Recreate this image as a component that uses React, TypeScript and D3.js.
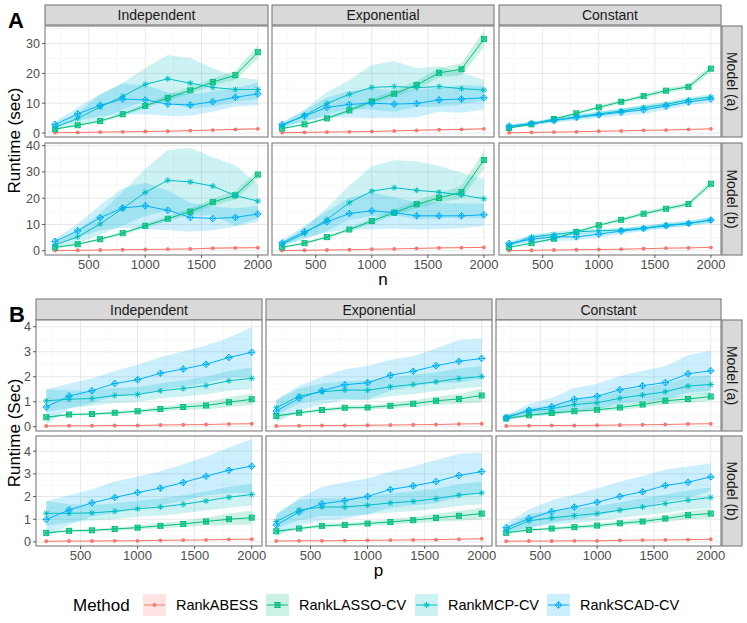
import * as d3 from 'd3';

// x values (n for panel A, p for panel B)
const X_VALUES = [200, 400, 600, 800, 1000, 1200, 1400, 1600, 1800, 2000];
const X_TICKS = [500, 1000, 1500, 2000];
const X_MINOR = [250, 750, 1250, 1750];
const METHODS = ['RankABESS', 'RankLASSO-CV', 'RankMCP-CV', 'RankSCAD-CV'];
const COLORS = ['#F8766D', '#00BF7D', '#00BFC4', '#00B0F6'];
const COVARIANCES = ['Independent', 'Exponential', 'Constant'];
const MODELS = ['Model (a)', 'Model (b)'];

// ---- Panel A: runtime vs n (mean, sd per method: ABESS, LASSO, MCP, SCAD)
const A_a_ind = {
  mean: [
    [0.1, 0.2, 0.3, 0.4, 0.5, 0.6, 0.8, 1.0, 1.2, 1.4],
    [1.3, 2.6, 4.0, 6.3, 9.1, 11.8, 14.3, 17.1, 19.4, 27.1],
    [1.9, 4.9, 8.7, 12.3, 16.3, 18.2, 16.7, 15.3, 14.6, 14.6],
    [2.9, 6.4, 9.3, 11.4, 11.1, 9.7, 9.4, 10.5, 12.0, 13.1],
  ],
  sd: [
    [0.05, 0.05, 0.08, 0.1, 0.1, 0.12, 0.15, 0.2, 0.3, 0.4],
    [0.3, 0.4, 0.5, 0.6, 0.8, 1.0, 1.1, 1.2, 1.5, 2.3],
    [0.7, 2.0, 4.2, 4.5, 5.5, 8.0, 8.5, 6.5, 4.2, 3.3],
    [0.9, 2.2, 3.8, 5.2, 4.8, 4.0, 3.6, 3.4, 3.1, 3.8],
  ],
};
const A_a_exp = {
  mean: [
    [0.1, 0.2, 0.3, 0.4, 0.5, 0.7, 0.9, 1.1, 1.2, 1.4],
    [1.5, 2.9, 4.9, 7.6, 10.6, 13.2, 16.1, 20.2, 21.4, 31.5],
    [2.5, 5.9, 9.9, 13.0, 15.3, 15.6, 15.2, 15.6, 14.9, 14.4],
    [2.8, 5.7, 8.6, 9.6, 10.0, 9.7, 9.9, 11.1, 11.4, 11.8],
  ],
  sd: [
    [0.05, 0.05, 0.08, 0.1, 0.1, 0.12, 0.15, 0.25, 0.3, 0.3],
    [0.3, 0.4, 0.5, 0.7, 0.9, 1.1, 1.4, 1.6, 2.0, 2.8],
    [0.8, 2.0, 3.8, 4.8, 7.5, 8.5, 6.5, 6.8, 5.3, 3.5],
    [0.8, 1.8, 3.3, 4.4, 5.0, 4.6, 4.6, 4.0, 4.6, 4.0],
  ],
};
const A_a_con = {
  mean: [
    [0.1, 0.2, 0.3, 0.4, 0.6, 0.7, 0.9, 1.0, 1.2, 1.4],
    [1.7, 2.9, 4.7, 6.6, 8.6, 10.5, 12.4, 14.2, 15.5, 21.6],
    [2.1, 3.1, 4.3, 5.4, 6.4, 7.4, 8.5, 9.6, 11.1, 12.1],
    [2.3, 3.2, 4.2, 5.2, 6.1, 7.0, 7.8, 9.0, 10.4, 11.4],
  ],
  sd: [
    [0.05, 0.05, 0.06, 0.08, 0.1, 0.1, 0.12, 0.12, 0.15, 0.15],
    [0.2, 0.3, 0.4, 0.5, 0.6, 0.6, 0.7, 0.8, 0.9, 1.3],
    [0.5, 0.6, 0.6, 0.7, 0.8, 0.8, 0.9, 0.9, 0.9, 1.0],
    [0.6, 0.7, 0.8, 0.9, 1.0, 1.2, 1.4, 1.2, 1.1, 1.2],
  ],
};
const A_b_ind = {
  mean: [
    [0.1, 0.2, 0.3, 0.4, 0.5, 0.6, 0.7, 1.0, 1.1, 1.2],
    [1.3, 2.5, 4.4, 6.7, 9.5, 12.2, 14.9, 18.5, 21.1, 29.0],
    [2.2, 5.3, 10.2, 16.1, 22.2, 26.8, 26.2, 24.6, 21.0, 18.9],
    [3.6, 7.6, 12.6, 16.3, 17.1, 15.4, 12.7, 12.3, 12.7, 14.0],
  ],
  sd: [
    [0.05, 0.05, 0.08, 0.1, 0.1, 0.12, 0.15, 0.35, 0.35, 0.35],
    [0.3, 0.4, 0.5, 0.6, 0.8, 1.0, 1.2, 1.4, 1.6, 1.8],
    [0.8, 2.4, 4.2, 6.5, 9.0, 11.5, 13.0, 11.0, 11.5, 6.5],
    [1.0, 2.6, 4.8, 7.5, 8.8, 7.5, 5.5, 4.5, 3.5, 3.0],
  ],
};
const A_b_exp = {
  mean: [
    [0.1, 0.2, 0.3, 0.4, 0.6, 0.7, 0.9, 1.1, 1.2, 1.3],
    [1.3, 2.9, 5.2, 8.1, 11.3, 14.5, 17.7, 20.1, 22.3, 34.5],
    [2.5, 6.6, 11.9, 18.3, 22.7, 24.0, 23.0, 22.3, 21.2, 19.8],
    [3.0, 7.2, 11.0, 14.2, 15.2, 14.5, 13.3, 13.3, 13.3, 13.7],
  ],
  sd: [
    [0.05, 0.05, 0.08, 0.1, 0.1, 0.12, 0.15, 0.2, 0.25, 0.25],
    [0.3, 0.4, 0.6, 0.8, 1.0, 1.2, 1.5, 1.8, 2.4, 3.5],
    [0.8, 2.2, 4.5, 6.5, 9.5, 10.5, 11.0, 10.0, 8.5, 7.5],
    [1.0, 2.3, 4.0, 6.0, 7.0, 6.0, 5.2, 5.0, 4.7, 4.3],
  ],
};
const A_b_con = {
  mean: [
    [0.1, 0.2, 0.3, 0.4, 0.5, 0.6, 0.8, 1.0, 1.1, 1.3],
    [1.3, 2.9, 4.6, 7.2, 9.7, 11.8, 14.1, 16.0, 17.8, 25.5],
    [2.2, 5.2, 6.2, 7.2, 7.6, 7.9, 8.6, 9.8, 10.4, 11.7],
    [2.8, 4.4, 5.3, 5.3, 6.3, 7.5, 8.5, 9.5, 10.4, 11.7],
  ],
  sd: [
    [0.05, 0.05, 0.06, 0.08, 0.1, 0.1, 0.12, 0.12, 0.15, 0.15],
    [0.2, 0.3, 0.4, 0.5, 0.6, 0.7, 0.8, 0.8, 0.9, 1.2],
    [0.6, 1.2, 1.0, 0.9, 0.9, 0.8, 0.8, 0.9, 0.9, 1.0],
    [0.8, 1.4, 1.6, 1.3, 1.2, 1.1, 1.1, 1.0, 1.0, 1.1],
  ],
};

// ---- Panel B: runtime vs p
const B_a_ind = {
  mean: [
    [0.03, 0.04, 0.04, 0.05, 0.05, 0.07, 0.08, 0.09, 0.11, 0.12],
    [0.38, 0.49, 0.51, 0.56, 0.62, 0.71, 0.79, 0.85, 0.98, 1.1],
    [1.04, 1.1, 1.13, 1.25, 1.29, 1.44, 1.53, 1.65, 1.84, 1.94],
    [0.79, 1.23, 1.44, 1.73, 1.88, 2.14, 2.31, 2.5, 2.77, 2.98],
  ],
  sd: [
    [0.01, 0.01, 0.01, 0.01, 0.01, 0.01, 0.01, 0.01, 0.01, 0.01],
    [0.04, 0.05, 0.05, 0.06, 0.07, 0.09, 0.12, 0.15, 0.2, 0.23],
    [0.45, 0.35, 0.3, 0.3, 0.3, 0.3, 0.32, 0.35, 0.4, 0.42],
    [0.7, 0.5, 0.5, 0.5, 0.6, 0.65, 0.7, 0.75, 0.8, 1.0],
  ],
};
const B_a_exp = {
  mean: [
    [0.03, 0.04, 0.05, 0.05, 0.06, 0.07, 0.08, 0.09, 0.11, 0.12],
    [0.43, 0.56, 0.67, 0.76, 0.77, 0.84, 0.92, 1.04, 1.11, 1.25],
    [0.76, 1.23, 1.4, 1.47, 1.46, 1.6, 1.69, 1.8, 1.93, 2.01],
    [0.63, 1.14, 1.44, 1.68, 1.76, 2.06, 2.22, 2.44, 2.62, 2.73],
  ],
  sd: [
    [0.01, 0.01, 0.01, 0.01, 0.01, 0.01, 0.01, 0.01, 0.01, 0.01],
    [0.05, 0.06, 0.07, 0.08, 0.09, 0.1, 0.13, 0.17, 0.2, 0.27],
    [0.3, 0.3, 0.33, 0.35, 0.4, 0.38, 0.38, 0.38, 0.4, 0.42],
    [0.45, 0.5, 0.55, 0.62, 0.67, 0.62, 0.6, 0.7, 0.85, 0.8],
  ],
};
const B_a_con = {
  mean: [
    [0.03, 0.04, 0.05, 0.05, 0.06, 0.07, 0.08, 0.09, 0.11, 0.12],
    [0.33, 0.46, 0.55, 0.62, 0.68, 0.77, 0.89, 1.04, 1.11, 1.21],
    [0.4, 0.63, 0.72, 0.89, 0.96, 1.14, 1.27, 1.4, 1.63, 1.69],
    [0.35, 0.66, 0.81, 1.1, 1.22, 1.48, 1.64, 1.77, 2.12, 2.24],
  ],
  sd: [
    [0.01, 0.01, 0.01, 0.01, 0.01, 0.01, 0.01, 0.01, 0.01, 0.01],
    [0.04, 0.05, 0.06, 0.07, 0.08, 0.1, 0.12, 0.14, 0.16, 0.18],
    [0.08, 0.12, 0.15, 0.2, 0.25, 0.28, 0.3, 0.32, 0.35, 0.38],
    [0.1, 0.25, 0.35, 0.45, 0.5, 0.55, 0.6, 0.65, 0.75, 0.8],
  ],
};
const B_b_ind = {
  mean: [
    [0.03, 0.04, 0.04, 0.05, 0.05, 0.07, 0.08, 0.09, 0.11, 0.12],
    [0.4, 0.49, 0.51, 0.57, 0.63, 0.71, 0.79, 0.9, 1.0, 1.07],
    [1.26, 1.26, 1.28, 1.35, 1.46, 1.54, 1.66, 1.81, 1.97, 2.09],
    [0.99, 1.41, 1.72, 1.96, 2.18, 2.37, 2.62, 2.9, 3.16, 3.34],
  ],
  sd: [
    [0.01, 0.01, 0.01, 0.01, 0.01, 0.01, 0.01, 0.01, 0.01, 0.01],
    [0.04, 0.05, 0.06, 0.07, 0.08, 0.1, 0.14, 0.18, 0.25, 0.3],
    [0.55, 0.4, 0.35, 0.35, 0.35, 0.38, 0.4, 0.42, 0.45, 0.48],
    [0.8, 0.65, 0.6, 0.7, 0.7, 0.75, 0.8, 0.85, 1.0, 1.2],
  ],
};
const B_b_exp = {
  mean: [
    [0.04, 0.05, 0.05, 0.06, 0.07, 0.08, 0.09, 0.1, 0.12, 0.14],
    [0.47, 0.59, 0.71, 0.75, 0.81, 0.88, 0.96, 1.06, 1.15, 1.25],
    [0.9, 1.41, 1.54, 1.54, 1.62, 1.72, 1.79, 1.91, 2.06, 2.16],
    [0.74, 1.32, 1.68, 1.82, 2.01, 2.31, 2.47, 2.66, 2.93, 3.1],
  ],
  sd: [
    [0.01, 0.01, 0.01, 0.01, 0.01, 0.01, 0.01, 0.01, 0.01, 0.01],
    [0.05, 0.06, 0.08, 0.09, 0.1, 0.12, 0.14, 0.18, 0.22, 0.26],
    [0.3, 0.45, 0.4, 0.4, 0.4, 0.42, 0.44, 0.45, 0.48, 0.5],
    [0.5, 0.6, 0.75, 0.8, 0.8, 0.8, 0.85, 0.95, 0.95, 0.85],
  ],
};
const B_b_con = {
  mean: [
    [0.03, 0.04, 0.04, 0.05, 0.05, 0.07, 0.08, 0.09, 0.1, 0.12],
    [0.4, 0.53, 0.59, 0.65, 0.72, 0.82, 0.9, 1.03, 1.18, 1.25],
    [0.51, 0.93, 1.06, 1.16, 1.25, 1.4, 1.54, 1.69, 1.84, 1.96],
    [0.63, 1.03, 1.34, 1.54, 1.75, 2.01, 2.21, 2.49, 2.63, 2.87],
  ],
  sd: [
    [0.01, 0.01, 0.01, 0.01, 0.01, 0.01, 0.01, 0.01, 0.01, 0.01],
    [0.05, 0.06, 0.07, 0.08, 0.09, 0.1, 0.12, 0.14, 0.18, 0.22],
    [0.15, 0.3, 0.3, 0.32, 0.33, 0.35, 0.38, 0.4, 0.42, 0.45],
    [0.2, 0.4, 0.5, 0.55, 0.6, 0.65, 0.7, 0.7, 0.7, 0.6],
  ],
};

const A_Y_TICKS = [[0, 10, 20, 30], [0, 10, 20, 30, 40]];
const A_Y_MINOR = [[5, 15, 25, 35], [5, 15, 25, 35]];
const B_Y_TICKS = [[0, 1, 2, 3, 4], [0, 1, 2, 3, 4]];
const B_Y_MINOR = [[0.5, 1.5, 2.5, 3.5], [0.5, 1.5, 2.5, 3.5, 4.5]];

const FONT = 'Liberation Sans, Arial, Helvetica, sans-serif';
const BORDER = '#7a7a7a';

const SECTIONS = [
  {
    label: 'A', xTitle: 'n', yTitle: 'Runtime (sec)',
    cols: [[45, 268], [272, 494], [499, 721]],
    strip: [5, 25], rows: [[26, 137], [143, 255]],
    domains: [[-1.34, 35.9], [-1.6, 41.0]],
    yTicks: A_Y_TICKS, yMinor: A_Y_MINOR,
    data: [[A_a_ind, A_a_exp, A_a_con], [A_b_ind, A_b_exp, A_b_con]],
    tickBase: 269, titleBase: 285, labelXY: [8, 28],
  },
  {
    label: 'B', xTitle: 'p', yTitle: 'Runtime (Sec)',
    cols: [[36, 262], [266, 492], [496, 721]],
    strip: [299, 320], rows: [[320, 431], [436, 546]],
    domains: [[-0.17, 4.27], [-0.18, 4.67]],
    yTicks: B_Y_TICKS, yMinor: B_Y_MINOR,
    data: [[B_a_ind, B_a_exp, B_a_con], [B_b_ind, B_b_exp, B_b_con]],
    tickBase: 560, titleBase: 576, labelXY: [9, 322],
  },
];

function Marker({ k, x, y, color }: { k: number; x: number; y: number; color: string }) {
  if (k === 0) return <circle cx={x} cy={y} r={1.9} fill={color} />;
  if (k === 1) {
    const s = 2.5;
    return (
      <g stroke={color} strokeWidth={1} fill={color} fillOpacity={0.5}>
        <rect x={x - s} y={y - s} width={2 * s} height={2 * s} />
        <path d={`M${x - s},${y - s}L${x + s},${y + s}M${x - s},${y + s}L${x + s},${y - s}`} />
      </g>
    );
  }
  if (k === 2) {
    const r = 3, d = 2.2;
    return (
      <path stroke={color} strokeWidth={1}
        d={`M${x - r},${y}L${x + r},${y}M${x},${y - r}L${x},${y + r}M${x - d},${y - d}L${x + d},${y + d}M${x - d},${y + d}L${x + d},${y - d}`} />
    );
  }
  const r = 3.3;
  return (
    <g stroke={color} strokeWidth={1} fill="none">
      <path d={`M${x},${y - r}L${x + r},${y}L${x},${y + r}L${x - r},${y}Z`} />
      <path d={`M${x - r},${y}L${x + r},${y}M${x},${y - r}L${x},${y + r}`} />
    </g>
  );
}

function Panel({ id, x0, x1, y0, y1, domain, yTicks, yMinor, series, showY, showX, tickBase }: any) {
  const x = d3.scaleLinear().domain([110, 2090]).range([x0, x1]);
  const y = d3.scaleLinear().domain(domain).range([y1, y0]);
  const line = d3.line<number>().x((_, i) => x(X_VALUES[i])).y((d) => y(d));
  const area = (m: number[], s: number[]) =>
    d3.area<number>()
      .x((_, i) => x(X_VALUES[i]))
      .y0((d, i) => y(d - s[i]))
      .y1((d, i) => y(d + s[i]))(m) as string;
  return (
    <g>
      <defs>
        <clipPath id={id}><rect x={x0} y={y0} width={x1 - x0} height={y1 - y0} /></clipPath>
      </defs>
      <rect x={x0} y={y0} width={x1 - x0} height={y1 - y0} fill="#fff" />
      {yMinor.map((v: number) => y(v) > y0 && (
        <line key={'ym' + v} x1={x0} x2={x1} y1={y(v)} y2={y(v)} stroke="#f2f2f2" strokeWidth={0.6} />
      ))}
      {X_MINOR.map((v) => (
        <line key={'xm' + v} x1={x(v)} x2={x(v)} y1={y0} y2={y1} stroke="#f2f2f2" strokeWidth={0.6} />
      ))}
      {yTicks.map((v: number) => (
        <line key={'yg' + v} x1={x0} x2={x1} y1={y(v)} y2={y(v)} stroke="#e8e8e8" strokeWidth={1} />
      ))}
      {X_TICKS.map((v) => (
        <line key={'xg' + v} x1={x(v)} x2={x(v)} y1={y0} y2={y1} stroke="#e8e8e8" strokeWidth={1} />
      ))}
      <g clipPath={`url(#${id})`}>
        {series.mean.map((m: number[], k: number) => (
          <path key={'r' + k} d={area(m, series.sd[k])} fill={COLORS[k]} fillOpacity={0.2} />
        ))}
        {series.mean.map((m: number[], k: number) => (
          <path key={'l' + k} d={line(m) as string} fill="none" stroke={COLORS[k]} strokeWidth={1} />
        ))}
        {series.mean.map((m: number[], k: number) => (
          <g key={'p' + k}>
            {m.map((v, i) => <Marker key={i} k={k} x={x(X_VALUES[i])} y={y(v)} color={COLORS[k]} />)}
          </g>
        ))}
      </g>
      <rect x={x0} y={y0} width={x1 - x0} height={y1 - y0} fill="none" stroke={BORDER} strokeWidth={1.1} />
      {showY && yTicks.map((v: number) => (
        <g key={'yt' + v}>
          <line x1={x0 - 3} x2={x0} y1={y(v)} y2={y(v)} stroke="#333" strokeWidth={0.8} />
          <text x={x0 - 5} y={y(v)} dy="0.36em" textAnchor="end" fontSize={12.5} fill="#4d4d4d" fontFamily={FONT}>{v}</text>
        </g>
      ))}
      {showX && X_TICKS.map((v) => (
        <g key={'xt' + v}>
          <line x1={x(v)} x2={x(v)} y1={y1} y2={y1 + 3} stroke="#333" strokeWidth={0.8} />
          <text x={x(v)} y={tickBase} textAnchor="middle" fontSize={13} fill="#4d4d4d" fontFamily={FONT}>{v}</text>
        </g>
      ))}
    </g>
  );
}

function Section({ s }: any) {
  const left = s.cols[0][0], right = s.cols[2][1];
  return (
    <g>
      <text x={s.labelXY[0]} y={s.labelXY[1]} fontSize={22} fontWeight="bold" fontFamily={FONT}>{s.label}</text>
      {s.cols.map((c: number[], ci: number) => (
        <g key={'st' + ci}>
          <rect x={c[0]} y={s.strip[0]} width={c[1] - c[0]} height={s.strip[1] - s.strip[0]} fill="#d9d9d9" stroke={BORDER} strokeWidth={1.1} />
          <text x={(c[0] + c[1]) / 2} y={(s.strip[0] + s.strip[1]) / 2} dy="0.36em" textAnchor="middle" fontSize={14} fill="#1a1a1a" fontFamily={FONT}>{COVARIANCES[ci]}</text>
        </g>
      ))}
      {s.rows.map((r: number[], ri: number) => (
        <g key={'row' + ri}>
          <rect x={right + 1} y={r[0]} width={20} height={r[1] - r[0]} fill="#d9d9d9" stroke={BORDER} strokeWidth={1.1} />
          <text transform={`translate(${right + 11},${(r[0] + r[1]) / 2}) rotate(90)`} dy="0.36em" textAnchor="middle" fontSize={14} fill="#1a1a1a" fontFamily={FONT}>{MODELS[ri]}</text>
          {s.cols.map((c: number[], ci: number) => (
            <Panel key={ci} id={`clip-${s.label}-${ri}-${ci}`} x0={c[0]} x1={c[1]} y0={r[0]} y1={r[1]}
              domain={s.domains[ri]} yTicks={s.yTicks[ri]} yMinor={s.yMinor[ri]} series={s.data[ri][ci]}
              showY={ci === 0} showX={ri === 1} tickBase={s.tickBase} />
          ))}
        </g>
      ))}
      <text x={(left + right) / 2} y={s.titleBase} textAnchor="middle" fontSize={17} fontFamily={FONT}>{s.xTitle}</text>
      <text transform={`translate(20,${(s.rows[0][0] + s.rows[1][1]) / 2}) rotate(-90)`} textAnchor="middle" fontSize={17} fontFamily={FONT}>{s.yTitle}</text>
    </g>
  );
}

const LEGEND_KEYS = [143, 266, 415, 547];

function Legend() {
  const cy = 605;
  return (
    <g fontFamily={FONT}>
      <text x={73} y={cy} dy="0.36em" fontSize={17}>Method</text>
      {METHODS.map((m, k) => (
        <g key={m}>
          <rect x={LEGEND_KEYS[k]} y={cy - 11} width={23} height={22} fill={COLORS[k]} fillOpacity={0.2} />
          <line x1={LEGEND_KEYS[k] + 1} x2={LEGEND_KEYS[k] + 22} y1={cy} y2={cy} stroke={COLORS[k]} strokeWidth={1} />
          <Marker k={k} x={LEGEND_KEYS[k] + 11.5} y={cy} color={COLORS[k]} />
          <text x={LEGEND_KEYS[k] + 33} y={cy} dy="0.36em" fontSize={14.5}>{m}</text>
        </g>
      ))}
    </g>
  );
}

export default function App() {
  return (
    <svg width={747} height={623} viewBox="0 0 747 623" style={{ position: 'absolute', left: 0, top: 0, background: '#fff' }}>
      <rect width={747} height={623} fill="#fff" />
      {SECTIONS.map((s) => <Section key={s.label} s={s} />)}
      <Legend />
    </svg>
  );
}
